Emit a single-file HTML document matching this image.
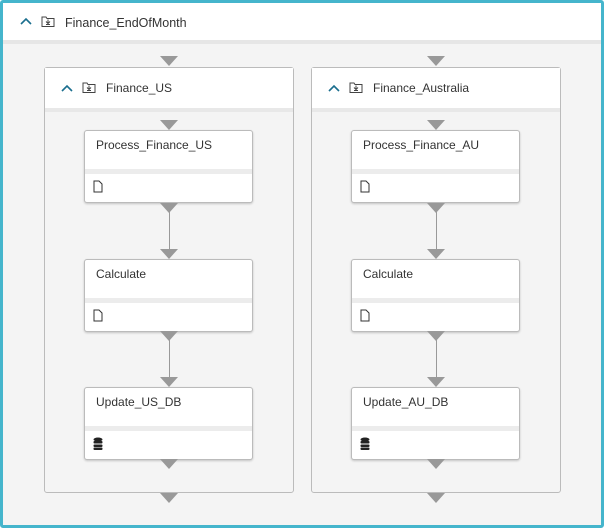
<html><head><style>
body{margin:0;width:604px;height:529px;background:#fff;font-family:"Liberation Sans",sans-serif;font-size:12px;color:#333;position:relative;overflow:hidden}
.a{position:absolute;box-sizing:border-box}
.tri{position:absolute;width:0;height:0;border-left:9px solid transparent;border-right:9px solid transparent;border-top:10px solid #999}
.node{position:absolute;width:169px;height:73px;background:#fff;border:1px solid #bbb;border-radius:3px;box-shadow:0 1px 2px rgba(0,0,0,.2);box-sizing:border-box}
.node .band{position:absolute;left:0;right:0;top:38px;height:5px;background:#ececec}
.node .t{position:absolute;left:11px;top:7px}
.node .ic{position:absolute;left:8px;top:49px}
.line{position:absolute;width:1px;background:#999}
.cont{position:absolute;width:250px;height:426px;background:#f4f4f4;border:1px solid #bbb;border-radius:3px;box-sizing:border-box}
.hdr{position:absolute;left:0;right:0;top:0;height:40px;background:#fff;border-bottom:4px solid #e8e8e8}
.chev{position:absolute;color:#1a6e8e;font-size:13px}
</style></head><body>
<div class="a" style="left:0;top:0;width:604px;height:528px;border:3px solid #45b5cc;border-radius:3px;background:#f4f4f4"></div>
<div class="a" style="left:3px;top:3px;width:598px;height:41px;background:#fff;border-bottom:4px solid #e6e6e6"></div>
<svg class="a" style="left:20px;top:17px" width="12" height="8"><path d="M1 7L6 2L11 7" fill="none" stroke="#1a6e8e" stroke-width="1.6"/></svg>
<svg class="a" style="left:41px;top:15px" width="14" height="12"><path d="M1 2h4l1 1.5h7v8H1z" fill="none" stroke="#444"/><path d="M7 4.5v3.5M5 6.5l2 2 2-2M5 9.5h4" stroke="#444" fill="none"/></svg>
<div class="a" style="left:65px;top:16px;font-size:12.5px">Finance_EndOfMonth</div>

<div class="tri" style="left:160px;top:56px"></div>
<div class="tri" style="left:427px;top:56px"></div>

<div class="cont" style="left:44px;top:67px"><div class="hdr"></div></div>
<div class="cont" style="left:311px;top:67px"><div class="hdr"></div></div>

<svg class="a" style="left:61px;top:84px" width="12" height="8"><path d="M1 7L6 2L11 7" fill="none" stroke="#1a6e8e" stroke-width="1.6"/></svg>
<svg class="a" style="left:82px;top:81px" width="14" height="12"><path d="M1 2h4l1 1.5h7v8H1z" fill="none" stroke="#444"/><path d="M7 4.5v3.5M5 6.5l2 2 2-2M5 9.5h4" stroke="#444" fill="none"/></svg>
<div class="a" style="left:106px;top:81px">Finance_US</div>
<svg class="a" style="left:328px;top:84px" width="12" height="8"><path d="M1 7L6 2L11 7" fill="none" stroke="#1a6e8e" stroke-width="1.6"/></svg>
<svg class="a" style="left:349px;top:81px" width="14" height="12"><path d="M1 2h4l1 1.5h7v8H1z" fill="none" stroke="#444"/><path d="M7 4.5v3.5M5 6.5l2 2 2-2M5 9.5h4" stroke="#444" fill="none"/></svg>
<div class="a" style="left:373px;top:81px">Finance_Australia</div>

<!-- US column -->
<div class="tri" style="left:160px;top:120px"></div>
<div class="node" style="left:84px;top:130px"><div class="t">Process_Finance_US</div><div class="band"></div><svg class="ic" width="10" height="13"><path d="M1 1h5l3 3v8H1z" fill="#fff" stroke="#333"/></svg></div>
<div class="tri" style="left:160px;top:203px"></div>
<div class="line" style="left:169px;top:212px;height:38px"></div>
<div class="tri" style="left:160px;top:249px"></div>
<div class="node" style="left:84px;top:259px"><div class="t">Calculate</div><div class="band"></div><svg class="ic" width="10" height="13"><path d="M1 1h5l3 3v8H1z" fill="#fff" stroke="#333"/></svg></div>
<div class="tri" style="left:160px;top:331px"></div>
<div class="line" style="left:169px;top:340px;height:38px"></div>
<div class="tri" style="left:160px;top:377px"></div>
<div class="node" style="left:84px;top:387px"><div class="t">Update_US_DB</div><div class="band"></div><svg class="ic" width="10" height="13"><ellipse cx="5" cy="2.5" rx="4.5" ry="2" fill="#222"/><rect x=".5" y="4" width="9" height="2.5" rx="1" fill="#222"/><rect x=".5" y="7.5" width="9" height="2.5" rx="1" fill="#222"/><rect x=".5" y="10.5" width="9" height="2.5" rx="1" fill="#222"/></svg></div>
<div class="tri" style="left:160px;top:459px"></div>
<div class="tri" style="left:160px;top:493px"></div>

<!-- AU column -->
<div class="tri" style="left:427px;top:120px"></div>
<div class="node" style="left:351px;top:130px"><div class="t">Process_Finance_AU</div><div class="band"></div><svg class="ic" width="10" height="13"><path d="M1 1h5l3 3v8H1z" fill="#fff" stroke="#333"/></svg></div>
<div class="tri" style="left:427px;top:203px"></div>
<div class="line" style="left:436px;top:212px;height:38px"></div>
<div class="tri" style="left:427px;top:249px"></div>
<div class="node" style="left:351px;top:259px"><div class="t">Calculate</div><div class="band"></div><svg class="ic" width="10" height="13"><path d="M1 1h5l3 3v8H1z" fill="#fff" stroke="#333"/></svg></div>
<div class="tri" style="left:427px;top:331px"></div>
<div class="line" style="left:436px;top:340px;height:38px"></div>
<div class="tri" style="left:427px;top:377px"></div>
<div class="node" style="left:351px;top:387px"><div class="t">Update_AU_DB</div><div class="band"></div><svg class="ic" width="10" height="13"><ellipse cx="5" cy="2.5" rx="4.5" ry="2" fill="#222"/><rect x=".5" y="4" width="9" height="2.5" rx="1" fill="#222"/><rect x=".5" y="7.5" width="9" height="2.5" rx="1" fill="#222"/><rect x=".5" y="10.5" width="9" height="2.5" rx="1" fill="#222"/></svg></div>
<div class="tri" style="left:427px;top:459px"></div>
<div class="tri" style="left:427px;top:493px"></div>
</body></html>
